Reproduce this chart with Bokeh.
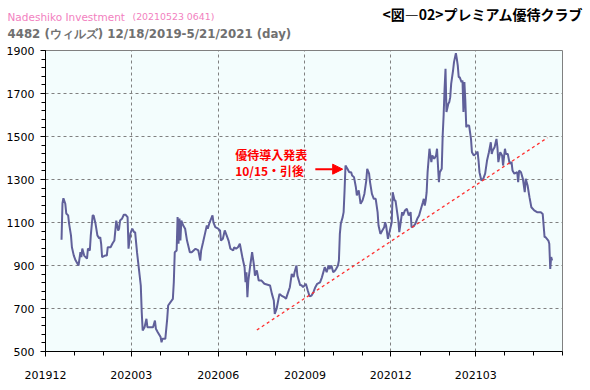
import pandas as pd
from bokeh.plotting import figure
from bokeh.layouts import column
from bokeh.models import (Label, Arrow, NormalHead, FixedTicker, Range1d, ColumnDataSource)
from bokeh.core.properties import value
from bokeh.embed import file_html
from bokeh.resources import INLINE

# ---- data ----
dates = [
    "2019-12-18", "2019-12-19", "2019-12-20", "2019-12-22", "2019-12-23", "2019-12-25", "2019-12-26",
    "2019-12-28", "2019-12-29", "2019-12-31", "2020-01-02", "2020-01-05", "2020-01-07", "2020-01-08",
    "2020-01-09", "2020-01-11", "2020-01-14", "2020-01-15", "2020-01-17", "2020-01-18", "2020-01-20",
    "2020-01-21", "2020-01-23", "2020-01-25", "2020-01-27", "2020-01-28", "2020-01-29", "2020-01-30",
    "2020-02-02", "2020-02-04", "2020-02-05", "2020-02-08", "2020-02-10", "2020-02-12", "2020-02-14",
    "2020-02-16", "2020-02-17", "2020-02-18", "2020-02-20", "2020-02-22", "2020-02-24", "2020-02-26",
    "2020-02-27", "2020-02-29", "2020-03-02", "2020-03-04", "2020-03-05", "2020-03-07", "2020-03-09",
    "2020-03-11", "2020-03-12", "2020-03-13", "2020-03-15", "2020-03-17", "2020-03-18", "2020-03-21",
    "2020-03-24", "2020-03-26", "2020-03-27", "2020-03-29", "2020-04-01", "2020-04-02", "2020-04-03",
    "2020-04-06", "2020-04-08", "2020-04-09", "2020-04-14", "2020-04-15", "2020-04-16", "2020-04-18",
    "2020-04-19", "2020-04-20", "2020-04-21", "2020-04-22", "2020-04-23", "2020-04-25", "2020-04-27",
    "2020-04-29", "2020-05-02", "2020-05-04", "2020-05-08", "2020-05-11", "2020-05-13", "2020-05-14",
    "2020-05-16", "2020-05-18", "2020-05-20", "2020-05-21", "2020-05-23", "2020-05-26", "2020-05-27",
    "2020-05-29", "2020-06-01", "2020-06-03", "2020-06-04", "2020-06-06", "2020-06-08", "2020-06-10",
    "2020-06-12", "2020-06-14", "2020-06-17", "2020-06-18", "2020-06-20", "2020-06-22", "2020-06-24",
    "2020-06-25", "2020-06-27", "2020-06-29", "2020-06-30", "2020-07-01", "2020-07-02", "2020-07-03",
    "2020-07-05", "2020-07-07", "2020-07-09", "2020-07-10", "2020-07-12", "2020-07-14", "2020-07-17",
    "2020-07-20", "2020-07-26", "2020-07-28", "2020-07-30", "2020-07-31", "2020-08-02", "2020-08-03",
    "2020-08-05", "2020-08-07", "2020-08-10", "2020-08-12", "2020-08-13", "2020-08-16", "2020-08-18",
    "2020-08-20", "2020-08-21", "2020-08-23", "2020-08-24", "2020-08-27", "2020-08-28", "2020-08-30",
    "2020-09-02", "2020-09-04", "2020-09-06", "2020-09-08", "2020-09-10", "2020-09-12", "2020-09-14",
    "2020-09-17", "2020-09-19", "2020-09-20", "2020-09-22", "2020-09-24", "2020-09-26", "2020-09-27",
    "2020-09-29", "2020-10-01", "2020-10-03", "2020-10-04", "2020-10-06", "2020-10-07", "2020-10-08",
    "2020-10-09", "2020-10-11", "2020-10-12", "2020-10-13", "2020-10-14", "2020-10-16", "2020-10-18",
    "2020-10-20", "2020-10-21", "2020-10-23", "2020-10-25", "2020-10-26", "2020-10-28", "2020-10-30",
    "2020-11-01", "2020-11-03", "2020-11-05", "2020-11-06", "2020-11-08", "2020-11-09", "2020-11-11",
    "2020-11-13", "2020-11-15", "2020-11-17", "2020-11-18", "2020-11-20", "2020-11-22", "2020-11-24",
    "2020-11-25", "2020-11-26", "2020-11-28", "2020-11-30", "2020-12-02", "2020-12-03", "2020-12-05",
    "2020-12-06", "2020-12-08", "2020-12-09", "2020-12-10", "2020-12-11", "2020-12-13", "2020-12-14",
    "2020-12-16", "2020-12-18", "2020-12-20", "2020-12-22", "2020-12-23", "2020-12-25", "2020-12-27",
    "2020-12-29", "2020-12-31", "2021-01-02", "2021-01-04", "2021-01-05", "2021-01-06", "2021-01-07",
    "2021-01-08", "2021-01-09", "2021-01-11", "2021-01-13", "2021-01-14", "2021-01-16", "2021-01-18",
    "2021-01-19", "2021-01-20", "2021-01-21", "2021-01-22", "2021-01-24", "2021-01-25", "2021-01-26",
    "2021-01-27", "2021-01-28", "2021-01-29", "2021-01-31", "2021-02-01", "2021-02-02", "2021-02-03",
    "2021-02-04", "2021-02-05", "2021-02-06", "2021-02-08", "2021-02-09", "2021-02-10", "2021-02-11",
    "2021-02-12", "2021-02-14", "2021-02-15", "2021-02-16", "2021-02-17", "2021-02-18", "2021-02-19",
    "2021-02-20", "2021-02-22", "2021-02-24", "2021-02-25", "2021-02-27", "2021-03-01", "2021-03-03",
    "2021-03-04", "2021-03-05", "2021-03-07", "2021-03-09", "2021-03-11", "2021-03-13", "2021-03-15",
    "2021-03-17", "2021-03-18", "2021-03-19", "2021-03-21", "2021-03-23", "2021-03-24", "2021-03-25",
    "2021-03-27", "2021-03-29", "2021-03-30", "2021-04-01", "2021-04-02", "2021-04-04", "2021-04-06",
    "2021-04-08", "2021-04-09", "2021-04-11", "2021-04-14", "2021-04-15", "2021-04-16", "2021-04-18",
    "2021-04-20", "2021-04-22", "2021-04-23", "2021-04-25", "2021-04-27", "2021-04-29", "2021-05-02",
    "2021-05-05", "2021-05-09", "2021-05-11", "2021-05-12", "2021-05-13", "2021-05-14", "2021-05-17",
    "2021-05-18", "2021-05-19", "2021-05-20", "2021-05-21",
]
prices = [
    1020, 1190, 1213, 1187, 1142, 1133, 1095,
    1040, 985, 946, 923, 900, 962, 939,
    979, 946, 932, 979, 970, 1040, 1133,
    1133, 1095, 1040, 1026, 1032, 1001, 939,
    946, 946, 985, 985, 1002, 1016, 1109,
    1063, 1071, 1109, 1117, 1136, 1136, 1125,
    978, 1049, 1071, 1055, 1055, 962, 884,
    807, 683, 598, 613, 652, 613, 613,
    613, 644, 606, 590, 567, 543, 559,
    559, 652, 714, 745, 822, 962, 970,
    1125, 1001, 1118, 1016, 1109, 1086, 1071,
    1016, 962, 962, 978, 970, 923, 970,
    1008, 1047, 1086, 1071, 1101, 1133, 1101,
    1078, 1071, 1063, 1016, 1024, 1063, 1040,
    1016, 978, 970, 985, 978, 985, 1001,
    978, 931, 892, 822, 869, 753, 830,
    900, 962, 900, 853, 877, 830, 830,
    815, 807, 768, 737, 675, 699, 722,
    768, 760, 753, 745, 760, 799, 861,
    846, 869, 900, 853, 807, 810, 799,
    815, 784, 756, 760, 776, 799, 815,
    822, 845, 861, 892, 869, 900, 884,
    900, 869, 877, 884, 900, 923, 1047,
    1094, 1125, 1148, 1249, 1365, 1350, 1334,
    1334, 1319, 1311, 1264, 1226, 1249, 1187,
    1202, 1233, 1295, 1350, 1327, 1288, 1233,
    1210, 1210, 1148, 1086, 1047, 1063, 1078,
    1101, 1086, 1024, 1063, 1101, 1241, 1202,
    1202, 1140, 1109, 1055, 1086, 1148, 1133,
    1156, 1164, 1133, 1148, 1078, 1082, 1094,
    1117, 1133, 1164, 1194, 1210, 1179, 1202,
    1241, 1334, 1443, 1381, 1412, 1396, 1412,
    1443, 1365, 1288, 1334, 1350, 1505, 1598,
    1722, 1815, 1614, 1652, 1660, 1683, 1745,
    1776, 1807, 1846, 1888, 1861, 1830, 1776,
    1776, 1753, 1760, 1614, 1753, 1667, 1543,
    1551, 1551, 1489, 1427, 1412, 1419, 1430,
    1388, 1334, 1295, 1303, 1327, 1388, 1427,
    1473, 1419, 1435, 1450, 1489, 1450, 1381,
    1427, 1412, 1365, 1443, 1419, 1419, 1373,
    1381, 1342, 1327, 1334, 1288, 1342, 1334,
    1303, 1241, 1303, 1272, 1218, 1171, 1156,
    1148, 1148, 1140, 1086, 1032, 1032, 1016,
    1001, 884, 939, 923,
]

trend_dates = ["2020-07-12", "2021-05-16"]
trend_values = [600, 1494]

tick_dates = ["2019-12-01", "2020-03-01", "2020-06-01", "2020-09-01", "2020-12-01", "2021-03-01"]
tick_labels = ["201912", "202003", "202006", "202009", "202012", "202103"]
minor_dates = ["2019-12-01", "2020-01-01", "2020-02-01", "2020-03-01", "2020-04-01", "2020-05-01",
               "2020-06-01", "2020-07-01", "2020-08-01", "2020-09-01", "2020-10-01", "2020-11-01",
               "2020-12-01", "2021-01-01", "2021-02-01", "2021-03-01", "2021-04-01", "2021-05-01",
               "2021-06-01"]
x_start, x_end = "2019-12-01", "2021-06-01"
y_start, y_end = 500, 1900
y_ticks = [500, 700, 900, 1100, 1300, 1500, 1700, 1900]
y_minor = list(range(500, 1901, 40))
y_grid = [700, 900, 1100, 1300, 1500, 1700]

note_lines = ["優待導入発表", "10/15・引後"]
note_date = "2020-06-19"
note_values = [1416, 1342]
arrow_dates = ["2020-09-12", "2020-10-11"]
arrow_value = 1348

title_top = "Nadeshiko Investment"
title_stamp = "(20210523 0641)"
title_main = "4482 (ウィルズ) 12/18/2019-5/21/2021 (day)"
title_right = "<図―02>プレミアム優待クラブ"


def ms(d):
    return pd.Timestamp(d).value / 1e6


W, H = 584, 388
HW = 588                       # header strip width
HEAD = 42                      # header strip height
FL, FR, FT, FB = 45, 562, 50, 351  # frame edges in page pixels

# ---- header strip with the titles (its own fixed frame, not aligned to the chart) ----
head = figure(frame_width=HW, frame_height=HEAD, output_backend="svg", toolbar_location=None,
              tools="", x_range=Range1d(0, HW), y_range=Range1d(HEAD, 0),
              min_border=0, min_border_left=0, min_border_right=0,
              min_border_top=0, min_border_bottom=0)
if "frame_align" in head.properties():
    head.frame_align = False
head.axis.visible = False
head.grid.visible = False
head.outline_line_color = None
head.background_fill_color = "#ffffff"
head.border_fill_color = "#ffffff"


def htext(text, x, y, size, color, font="DejaVu Sans", style="normal"):
    head.text(x=[x], y=[y], text=[text], text_font=value(font), text_font_size=size,
              text_color=color, text_font_style=style, text_baseline="alphabetic",
              text_align="left")


htext(title_top, 7, 16, "10.5px", "#f27fc0")
htext(title_stamp, 132, 16, "9.4px", "#f27fc0")
htext(title_main, 7, 33, "11.8px", "#707070", style="bold")
htext(title_right, 382, 13, "14px", "#000000", font="Noto Sans CJK JP", style="bold")

# ---- main chart ----
p = figure(width=W, height=H - HEAD, x_axis_type="datetime", output_backend="svg",
           toolbar_location=None, tools="",
           x_range=Range1d(ms(x_start), ms(x_end)), y_range=Range1d(y_start, y_end),
           min_border_left=FL, min_border_right=W - FR, min_border_top=FT - HEAD,
           min_border_bottom=H - FB)
p.border_fill_color = "#ffffff"
p.background_fill_color = "#f3fdfd"
p.outline_line_color = "#808080"
p.outline_line_width = 1

src = ColumnDataSource(dict(x=pd.to_datetime(dates), y=prices))
p.line("x", "y", source=src, line_color="#60609a", line_width=2)

p.line(pd.to_datetime(trend_dates), trend_values, line_color="#ff3030", line_width=1.3,
       line_dash="3 3")

xmaj = [ms(d) for d in tick_dates]
p.xaxis.ticker = FixedTicker(ticks=xmaj, minor_ticks=[ms(d) for d in minor_dates])
p.xaxis.major_label_overrides = {t: l for t, l in zip(xmaj, tick_labels)}
p.yaxis.ticker = FixedTicker(ticks=y_ticks, minor_ticks=y_minor)

for ax in (p.xaxis[0], p.yaxis[0]):
    ax.axis_line_color = "black"
    ax.major_tick_line_color = "black"
    ax.minor_tick_line_color = "black"
    ax.major_tick_in = 0
    ax.minor_tick_in = 0
    ax.major_tick_out = 5
    ax.minor_tick_out = 4
    ax.major_label_text_font = "DejaVu Sans"
    ax.major_label_text_font_size = "11px"
    ax.major_label_text_color = "#000000"
p.xaxis.major_label_standoff = 14
p.yaxis.major_label_standoff = 6

p.xgrid.ticker = FixedTicker(ticks=xmaj[1:])
p.ygrid.ticker = FixedTicker(ticks=y_grid)
for g in (p.xgrid[0], p.ygrid[0]):
    g.grid_line_color = "#808080"
    g.grid_line_dash = "3 3"
    g.grid_line_width = 1

for txt, yv in zip(note_lines, note_values):
    p.add_layout(Label(x=ms(note_date), y=yv, text=txt, text_color="#ff0000",
                       text_font="Noto Sans CJK JP", text_font_style="bold",
                       text_font_size="12px", text_baseline="middle", text_align="left"))
p.add_layout(Arrow(end=NormalHead(size=10, fill_color="#ff0000", line_color="#ff0000"),
                   x_start=ms(arrow_dates[0]), y_start=arrow_value,
                   x_end=ms(arrow_dates[1]), y_end=arrow_value,
                   line_color="#ff0000", line_width=2))

layout = column(head, p, spacing=0)
open("out.html", "w").write(file_html(layout, INLINE))
